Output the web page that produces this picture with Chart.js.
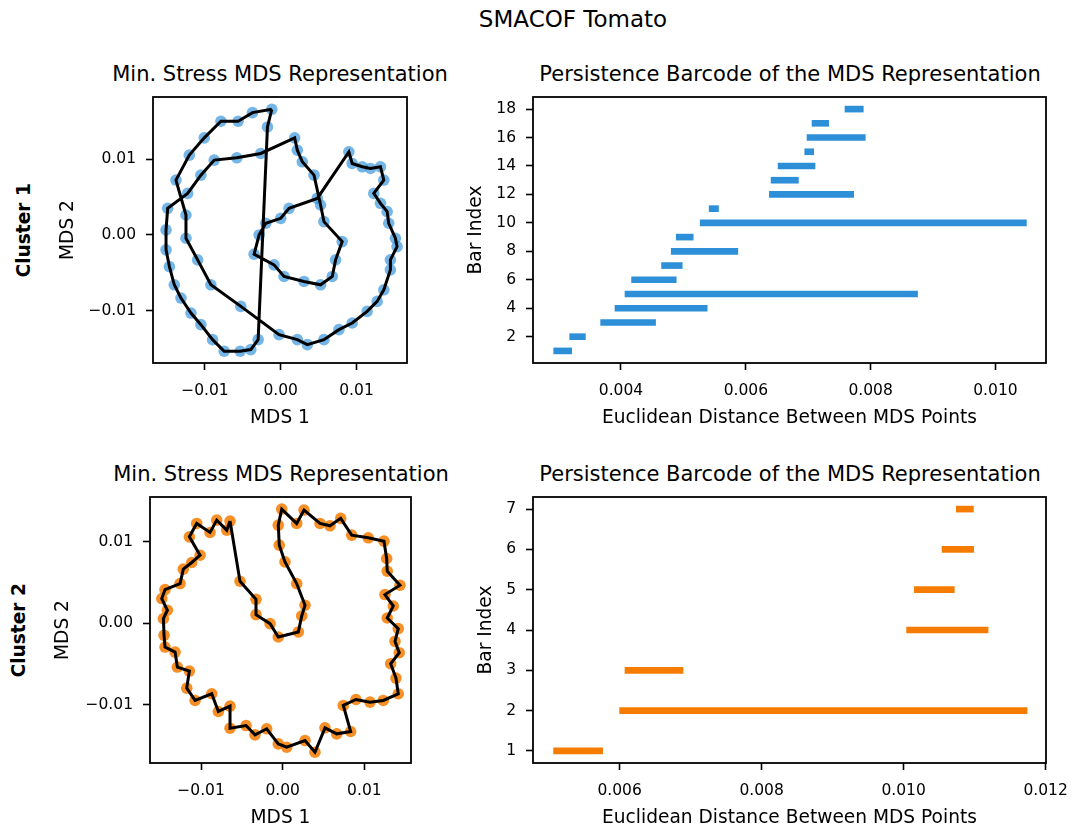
<!DOCTYPE html>
<html lang="en">
<head>
    <meta charset="UTF-8">
    <title>SMACOF Tomato</title>
    <script src="https://cdn.jsdelivr.net/npm/chart.js"></script>
    <style>
        body {
            margin: 0;
            background: #fff;
            font-family: "DejaVu Sans", sans-serif;
        }
        #fig {
            position: relative;
            width: 1073px;
            height: 825px;
            overflow: hidden;
            background: #fff;
        }
        #fig canvas {
            position: absolute;
        }
        .suptitle {
            position: absolute;
            left: 373px;
            top: 8px;
            width: 400px;
            text-align: center;
            font-size: 23px;
            line-height: 23px;
            color: #000;
        }
        .axtitle {
            position: absolute;
            width: 600px;
            text-align: center;
            font-size: 21px;
            line-height: 21px;
            color: #000;
            white-space: nowrap;
        }
        .rowlabel {
            position: absolute;
            width: 200px;
            height: 18.6px;
            line-height: 18.6px;
            font-size: 18.6px;
            font-weight: bold;
            text-align: center;
            transform: rotate(-90deg);
            color: #000;
        }
    </style>
</head>
<body>

<div id="fig">
    <div class="suptitle">SMACOF Tomato</div>
    <div class="axtitle" style="left:-20px; top:64px;">Min. Stress MDS Representation</div>
    <div class="axtitle" style="left:490px; top:64px;">Persistence Barcode of the MDS Representation</div>
    <div class="axtitle" style="left:-19px; top:464px;">Min. Stress MDS Representation</div>
    <div class="axtitle" style="left:490px; top:464px;">Persistence Barcode of the MDS Representation</div>
    <div class="rowlabel" style="left:-76px; top:221px;">Cluster 1</div>
    <div class="rowlabel" style="left:-81px; top:621px;">Cluster 2</div>
    <canvas id="mds1" width="430" height="390" style="left:0; top:40px;"></canvas>
    <canvas id="bars1" width="643" height="390" style="left:430px; top:40px;"></canvas>
    <canvas id="mds2" width="430" height="390" style="left:0; top:440px;"></canvas>
    <canvas id="bars2" width="643" height="390" style="left:430px; top:440px;"></canvas>
</div>

<script>
    // MDS coordinates, cluster 1 (points in path order)
    const mds1X = [-0.00118, -0.00175, -0.00298, -0.00395, -0.00535, -0.00746, -0.00899, -0.01053, -0.01184, -0.01316,
        -0.01404, -0.01469, -0.01513, -0.01513, -0.01491, -0.01228, -0.01053, -0.00877, -0.00579, -0.00263,
        0.00184, 0.00219, 0.00285, 0.00439, 0.00526, 0.00570, 0.00811, 0.00724, 0.00680, 0.00526,
        0.00307, 0.00044, -0.00088, -0.00351, -0.00285, -0.00197, 0.00000, 0.00110, 0.00482, 0.00899,
        0.00943, 0.01075, 0.01184, 0.01316, 0.01360, 0.01228, 0.01316, 0.01404, 0.01425, 0.01513,
        0.01535, 0.01447, 0.01447, 0.01360, 0.01272, 0.01140, 0.00943, 0.00768, 0.00570, 0.00351,
        0.00219, -0.00022, -0.00526, -0.00921, -0.01096, -0.01250, -0.01250, -0.01382, -0.01206, -0.01009,
        -0.00789, -0.00562, -0.00373];
    const mds1Y = [0.01658, 0.01425, -0.01382, -0.01513, -0.01535, -0.01535, -0.01382, -0.01184, -0.01031, -0.00833,
        -0.00658, -0.00417, -0.00197, 0.00066, 0.00351, 0.00548, 0.00789, 0.00987, 0.01018, 0.01075,
        0.01281, 0.01118, 0.00965, 0.00789, 0.00395, 0.00175, -0.00088, -0.00329, -0.00548, -0.00658,
        -0.00614, -0.00548, -0.00395, -0.00254, 0.00000, 0.00154, 0.00219, 0.00351, 0.00482, 0.01096,
        0.00943, 0.00899, 0.00877, 0.00899, 0.00724, 0.00548, 0.00417, 0.00307, 0.00154, -0.00044,
        -0.00154, -0.00329, -0.00461, -0.00724, -0.00877, -0.01009, -0.01162, -0.01250, -0.01382, -0.01447,
        -0.01382, -0.01316, -0.00943, -0.00658, -0.00329, -0.00044, 0.00263, 0.00724, 0.01053, 0.01281,
        0.01500, 0.01500, 0.01614];

    // MDS coordinates, cluster 2
    const mds2X = [-0.00645, -0.00523, -0.00327, -0.00327, -0.00155, -0.00054, 0.00191, 0.00233, 0.00273, 0.00171,
        0.00028, -0.00042, -0.00054, -0.00012, 0.00171, 0.00261, 0.00457, 0.00579, 0.00710, 0.00845,
        0.01048, 0.01240, 0.01273, 0.01280, 0.01436, 0.01252, 0.01354, 0.01280, 0.01415, 0.01375,
        0.01427, 0.01322, 0.01387, 0.01415, 0.01231, 0.01069, 0.00897, 0.00742, 0.00832, 0.00661,
        0.00518, 0.00395, 0.00273, 0.00049, -0.00054, -0.00196, -0.00339, -0.00449, -0.00645, -0.00645,
        -0.00788, -0.00869, -0.01073, -0.01175, -0.01143, -0.01290, -0.01318, -0.01441, -0.01453, -0.01461,
        -0.01412, -0.01481, -0.01441, -0.01257, -0.01217, -0.01114, -0.01012, -0.01143, -0.01053, -0.00890,
        -0.00808, -0.00685];
    const mds2Y = [0.01252, 0.00515, 0.00294, 0.00106, -0.00004, -0.00168, -0.00106, 0.00090, 0.00221, 0.00487,
        0.00752, 0.00957, 0.01202, 0.01399, 0.01223, 0.01387, 0.01223, 0.01194, 0.01285, 0.01080,
        0.01047, 0.01006, 0.00794, 0.00638, 0.00466, 0.00352, 0.00212, 0.00065, -0.00065, -0.00221,
        -0.00360, -0.00495, -0.00671, -0.00863, -0.00945, -0.00966, -0.00933, -0.01006, -0.01325, -0.01354,
        -0.01280, -0.01579, -0.01436, -0.01518, -0.01477, -0.01292, -0.01366, -0.01252, -0.01285, -0.01015,
        -0.01080, -0.00863, -0.00945, -0.00794, -0.00585, -0.00536, -0.00352, -0.00291, -0.00147, 0.00058,
        0.00160, 0.00303, 0.00413, 0.00487, 0.00663, 0.00745, 0.00834, 0.01059, 0.01223, 0.01113,
        0.01264, 0.01141];

    // Persistence bars (birth, death), one per bar index
    const bars1Birth = [0.002922, 0.003178, 0.003674, 0.003904, 0.004064, 0.004170, 0.004650, 0.004805, 0.004885,
        0.005269, 0.005413, 0.006378, 0.006405, 0.006517, 0.006944, 0.006981, 0.007061, 0.007589];
    const bars1Death = [0.003210, 0.003429, 0.004554, 0.005381, 0.008752, 0.004885, 0.004981, 0.005872, 0.005157,
        0.010496, 0.005562, 0.007728, 0.006842, 0.007109, 0.007088, 0.007914, 0.007328, 0.007882];
    const bars2Birth = [0.005070, 0.006000, 0.006076, 0.010042, 0.010151, 0.010541, 0.010742];
    const bars2Death = [0.005761, 0.011738, 0.006893, 0.011189, 0.010714, 0.010986, 0.010982];

    // Tick positions
    const mdsTicks = [-0.01, 0, 0.01];
    const bars1XTicks = [0.004, 0.006, 0.008, 0.010];
    const bars1YTicks = [2, 4, 6, 8, 10, 12, 14, 16, 18];
    const bars2XTicks = [0.006, 0.008, 0.010, 0.012];
    const bars2YTicks = [1, 2, 3, 4, 5, 6, 7];

    const BLUE = '#2c8fd8';
    const BLUE_PTS = 'rgba(44,143,216,0.65)';
    const ORANGE = '#f57c00';
    const ORANGE_PTS = 'rgba(245,124,0,0.85)';

    Chart.defaults.font.family = '"DejaVu Sans", sans-serif';
    Chart.defaults.color = '#000';

    const fmt2 = v => (v < 0 ? '\u2212' : '') + Math.abs(v).toFixed(2);
    const fmt3 = v => v.toFixed(3);

    // draw the full axes box like matplotlib spines
    const frame = {
        id: 'frame',
        afterDatasetsDraw(chart) {
            const { ctx, chartArea: a } = chart;
            ctx.save();
            ctx.strokeStyle = '#000';
            ctx.lineWidth = 1.8;
            ctx.strokeRect(a.left, a.top, a.right - a.left, a.bottom - a.top);
            ctx.restore();
        }
    };

    function axis(opts) {
        const isX = opts.pos === 'bottom';
        return {
            type: 'linear',
            position: opts.pos,
            min: opts.min,
            max: opts.max,
            offset: false,
            afterBuildTicks: s => { s.ticks = opts.ticks.map(v => ({ value: v })); },
            afterFit: s => {
                // fixed axis sizes so the plot boxes line up
                if (isX) {
                    s.height = 67;
                    s.paddingLeft = 0;
                    s.paddingRight = 0;
                } else {
                    s.width = opts.size;
                    s.paddingTop = 0;
                    s.paddingBottom = 0;
                }
            },
            ticks: {
                callback: opts.fmt,
                font: { size: 15.5 },
                color: '#000',
                padding: isX ? 12 : 10,
                autoSkip: false,
                maxRotation: 0
            },
            grid: {
                offset: false,
                drawOnChartArea: false,
                tickLength: 7,
                tickWidth: 1.6,
                tickColor: '#000'
            },
            border: { display: false },
            title: {
                display: true,
                text: opts.title,
                font: { size: 18.6 },
                color: '#000',
                padding: isX ? { top: 0, bottom: 1 } : { top: opts.titlePad, bottom: 0 }
            }
        };
    }

    function mdsChart(id, xs, ys, dotColor, cfg) {
        const pts = xs.map((x, i) => ({ x: x, y: ys[i] }));
        return new Chart(document.getElementById(id), {
            type: 'scatter',
            data: {
                datasets: [
                    {
                        // path through the points, closed back to the start
                        data: pts.concat([pts[0]]),
                        showLine: true,
                        borderColor: '#000',
                        borderWidth: 3,
                        pointRadius: 0,
                        order: 0
                    },
                    {
                        data: pts,
                        pointRadius: 5.8,
                        pointBackgroundColor: dotColor,
                        pointBorderWidth: 0,
                        order: 1
                    }
                ]
            },
            options: {
                responsive: false,
                animation: false,
                layout: { padding: { left: 0, top: 57, right: cfg.right, bottom: 0 } },
                plugins: {
                    legend: { display: false },
                    tooltip: { enabled: false }
                },
                scales: {
                    x: axis({ pos: 'bottom', min: cfg.xmin, max: cfg.xmax, ticks: mdsTicks, fmt: fmt2, title: 'MDS 1' }),
                    y: axis({ pos: 'left', min: cfg.ymin, max: cfg.ymax, ticks: mdsTicks, fmt: fmt2, title: 'MDS 2',
                        size: cfg.ywidth, titlePad: cfg.titlePad })
                }
            },
            plugins: [frame]
        });
    }

    function barcodeChart(id, births, deaths, color, cfg) {
        const bars = births.map((b, i) => ({ x: [b, deaths[i]], y: i + 1 }));
        return new Chart(document.getElementById(id), {
            type: 'bar',
            data: {
                datasets: [{
                    data: bars,
                    backgroundColor: color,
                    borderWidth: 0,
                    barThickness: 6
                }]
            },
            options: {
                indexAxis: 'y',
                responsive: false,
                animation: false,
                layout: { padding: { left: 0, top: 57, right: 27, bottom: 0 } },
                plugins: {
                    legend: { display: false },
                    tooltip: { enabled: false }
                },
                scales: {
                    x: axis({ pos: 'bottom', min: cfg.xmin, max: cfg.xmax, ticks: cfg.xticks, fmt: fmt3,
                        title: 'Euclidean Distance Between MDS Points' }),
                    y: axis({ pos: 'left', min: cfg.ymin, max: cfg.ymax, ticks: cfg.yticks, fmt: v => String(v),
                        title: 'Bar Index', size: 103, titlePad: cfg.titlePad })
                }
            },
            plugins: [frame]
        });
    }

    mdsChart('mds1', mds1X, mds1Y, BLUE_PTS, {
        xmin: -0.01685, xmax: 0.01666, ymin: -0.0169, ymax: 0.0182,
        right: 23, ywidth: 153, titlePad: 57
    });
    mdsChart('mds2', mds2X, mds2Y, ORANGE_PTS, {
        xmin: -0.01625, xmax: 0.01571, ymin: -0.01711, ymax: 0.01547,
        right: 19, ywidth: 150, titlePad: 52
    });
    barcodeChart('bars1', bars1Birth, bars1Death, BLUE, {
        xmin: 0.00259, xmax: 0.01081, ymin: 0.15, ymax: 18.85,
        xticks: bars1XTicks, yticks: bars1YTicks, titlePad: 35
    });
    barcodeChart('bars2', bars2Birth, bars2Death, ORANGE, {
        xmin: 0.00478, xmax: 0.012005, ymin: 0.7, ymax: 7.3,
        xticks: bars2XTicks, yticks: bars2YTicks, titlePad: 45
    });
</script>

</body>
</html>
